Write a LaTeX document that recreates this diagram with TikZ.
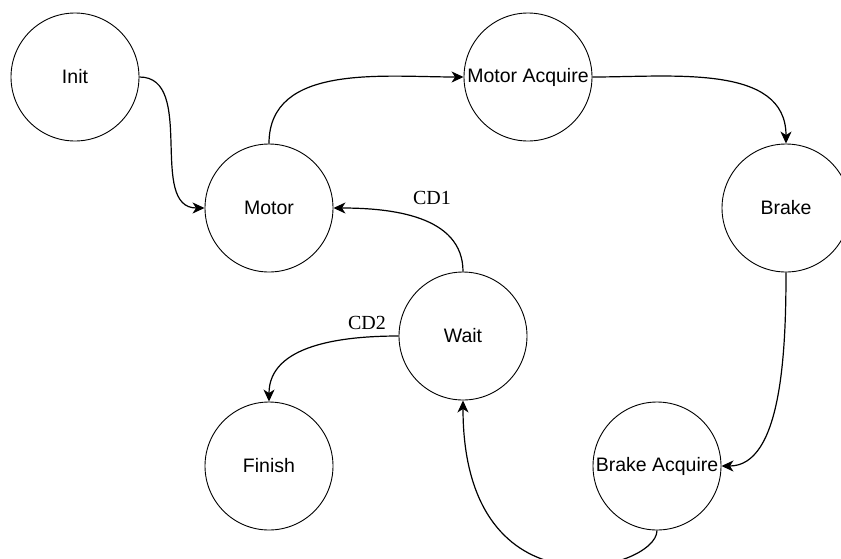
\documentclass[tikz,border=0pt]{standalone}
\usepackage{fontspec}
\setmainfont{Liberation Serif}
\setsansfont{Liberation Sans}
\usetikzlibrary{arrows.meta}

\begin{document}
\begin{tikzpicture}[x=1pt, y=1pt, >={Stealth[length=12pt, width=11pt, inset=3.5pt]},
        state/.style={draw, circle, line width=0.9pt, minimum size=128pt, inner sep=0pt,
                      font=\sffamily\fontsize{19.5}{22}\selectfont},
        cond/.style={font=\fontsize{20}{24}\selectfont},
        trans/.style={line width=1.2pt, arrows=->}]
            % The frame
            \useasboundingbox (0,0) rectangle (841,-558);

            % states
            \node[state] (init)  at (75,-77)   {Init};
            \node[state] (motor) at (269,-208) {Motor};
            \node[state] (macq)  at (528,-77)  {Motor Acquire};
            \node[state] (brake) at (786,-208) {Brake};
            \node[state] (wait)  at (463,-336) {Wait};
            \node[state] (fin)   at (269,-466) {Finish};
            \node[state] (bacq)  at (657,-466) {Brake Acquire};

            % transitions
            \draw[trans] (init.east) to[out=0, in=180] (motor.west);
            \draw[trans] (motor.north) to[out=90, in=180] (macq.west);
            \draw[trans] (macq.east) to[out=0, in=90] (brake.north);
            \draw[trans] (brake.south) to[out=-90, in=0, in distance=60pt] (bacq.east);
            \draw[trans] (bacq.south) to[out=-90, in=-90, out distance=40pt, in distance=220pt] (wait.south);
            \draw[trans] (wait.north) to[out=90, in=0] (motor.east);
            \draw[trans] (wait.west) to[out=180, in=90] (fin.north);

            % conditions
            \node[cond] (cdone) at (432,-198) {CD1};
            \node[cond] (cdtwo) at (367,-323) {CD2};
\end{tikzpicture}
\end{document}
